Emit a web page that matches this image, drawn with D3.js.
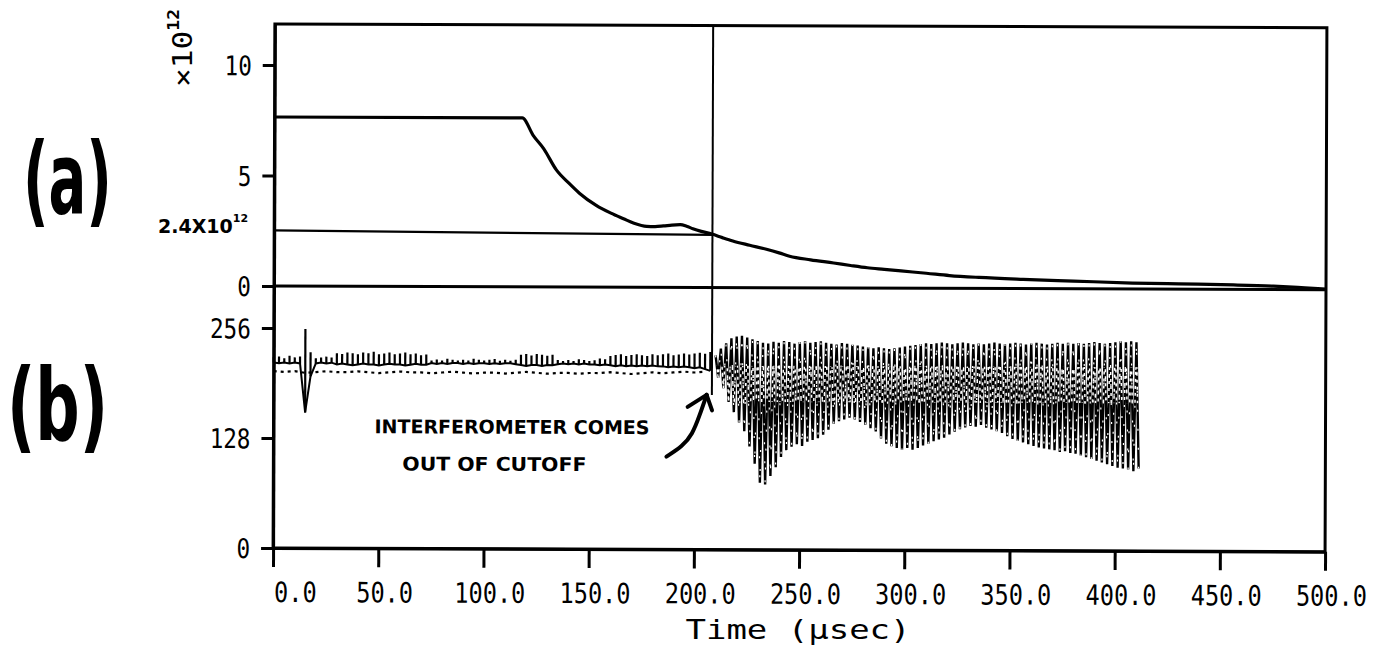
<!DOCTYPE html>
<meta charset="utf-8">
<head>
    <script type="text/javascript" src="https://cdn.jsdelivr.net/npm/d3@7"></script>

    <style>
        body {
            margin: 0;
            background: #fff;
        }

        .axis path, .axis line {
            stroke: #000;
            stroke-width: 3;
        }

        .axis text {
            fill: #000;
            font-family: "DejaVu Sans Mono", monospace;
        }

        .hand {
            fill: #000;
            font-family: "DejaVu Sans", sans-serif;
            font-weight: bold;
        }
    </style>

    <title>Density and interferometer signal</title>
</head>

<body>
    <div id="chart"></div>

    <script>
        // ---- panel (a): line density (x10^12) vs time (usec)
        var densT = [0, 117.7, 123, 128, 134, 140, 145, 153, 160, 166, 171, 177, 181, 185, 189, 193, 196, 199, 203, 208,
                     213, 218, 226, 234, 240, 245, 255, 266, 274, 282, 290, 298, 310, 321, 335, 356, 380, 408, 430, 456, 475, 490, 500];
        var densV = [7.65, 7.65, 6.85, 6.25, 5.3, 4.7, 4.25, 3.7, 3.35, 3.1, 2.9, 2.76, 2.75, 2.78, 2.82, 2.84, 2.77, 2.66, 2.54, 2.42,
                     2.26, 2.11, 1.92, 1.74, 1.58, 1.43, 1.27, 1.13, 1.02, 0.92, 0.85, 0.78, 0.68, 0.58, 0.5, 0.42, 0.35, 0.27, 0.24, 0.2, 0.15, 0.08, 0.03];

        // hand-drawn reference level and cursor
        var refLine = [[0, 2.52], [208.3, 2.38]];
        var refLabel = "2.4X10";
        var refExp = "12";
        var cursorT = 208.3;
        var cursorBottom = 180;   // where the cursor stops inside panel (b)

        // ---- panel (b): digitised interferometer signal (0..256), one sample every SAMPLE_DT usec
        var SAMPLE_DT = 2.5;
        // before cutoff (t = 0 .. 207.5): upper trace, tick tops and baseline
        var preHi = [222, 223, 221, 224, 222, 223, 255, 228, 221, 222, 223, 222,
                     227, 226, 228, 227, 226, 228, 227, 229, 226, 227, 228, 226, 227, 228, 226, 227, 225, 226,
                     219, 220, 219, 221, 220, 219, 220, 219, 221, 220, 219, 220, 221, 219, 220, 219, 220,
                     226, 227, 225, 227, 226, 225, 226,
                     220, 219, 220, 219, 221, 220, 219, 220, 222, 221,
                     225, 226, 227, 225, 226, 227, 226, 225, 227, 226, 227, 228, 226, 227, 228, 227, 228, 229, 228, 230];
        var preLo = [216, 215, 216, 215, 216, 215, 158, 200, 215, 216, 215, 216,
                     214, 215, 214, 213, 214, 215, 214, 214, 213, 214, 215, 214, 214, 213, 214, 215, 214, 214,
                     216, 215, 216, 215, 216, 216, 215, 216, 215, 216, 216, 215, 216, 215, 216, 216, 215,
                     214, 213, 214, 214, 213, 214, 214,
                     215, 216, 215, 216, 215, 216, 215, 215, 214, 215,
                     214, 213, 214, 213, 214, 213, 214, 213, 214, 213, 213, 212, 213, 212, 213, 212, 211, 212, 210, 208];
        // lower dotted trace before cutoff, one value every 5 usec
        var LOWER_DT = 5;
        var lowerTrace = [206, 205, 206, 204, 205, 206, 205, 205, 206, 205, 204, 205, 206, 205, 205, 204, 205, 206, 205, 204, 205,
                          205, 204, 205, 206, 205, 204, 205, 205, 204, 205, 205, 206, 205, 204, 205, 206, 205, 206, 207, 206, 207];
        // after cutoff (t = 210 .. 410): fringe oscillation, maxima and minima
        var BURST_T0 = 210;
        var burstHi = [226, 234, 240, 246, 248, 249, 247, 245, 243, 241,
                       240, 242, 241, 243, 242, 240, 242, 243, 241, 242,
                       243, 241, 240, 239, 241, 240, 239, 238, 237, 236,
                       235, 236, 235, 234, 235, 236, 237, 238, 239, 240,
                       241, 240, 241, 242, 241, 240, 241, 242, 241, 240,
                       241, 240, 241, 242, 241, 240, 241, 242, 241, 240,
                       241, 242, 241, 240, 241, 242, 241, 242, 241, 242,
                       241, 242, 243, 242, 241, 242, 243, 244, 243, 244,
                       243];
        var burstLo = [200, 188, 172, 160, 148, 138, 120, 100, 78, 76,
                       86, 96, 108, 116, 120, 123, 121, 126, 128, 130,
                       134, 140, 147, 150, 152, 154, 152, 149, 146, 142,
                       138, 130, 124, 121, 119, 117, 119, 117, 119, 122,
                       124, 127, 129, 131, 135, 138, 141, 143, 145, 144,
                       146, 143, 141, 139, 137, 133, 130, 128, 126, 124,
                       122, 120, 119, 118, 117, 115, 116, 114, 113, 111,
                       109, 107, 105, 103, 101, 99, 97, 96, 95, 93,
                       96];
        // lighter, speckled band in the middle of the burst
        var speckleBand = [214, 172];

        // annotation (panel b data units)
        var noteLines = ["INTERFEROMETER COMES", "OUT OF CUTOFF"];
        var notePos = [[48, 134], [61.3, 90.8]];
        var arrowPts = [[186.8, 108], [194.4, 120], [199.1, 134], [202.5, 156], [205.8, 180]];
        var arrowBarbs = [[196.8, 166], [208.4, 162]];

        // axes
        var xTicks = [0, 50, 100, 150, 200, 250, 300, 350, 400, 450, 500];
        var yTicksA = [0, 5, 10];
        var yTicksB = [0, 128, 256];

        var w = 1389, h = 646;

        var svg = d3.select("#chart")
            .append("svg")
            .attr("width", w)
            .attr("height", h)
            .style("background", "#fff");

        // the scanned plot sits slightly tilted
        var g = svg.append("g").attr("transform", "rotate(0.2 274 286)");

        var x = d3.scaleLinear().domain([0, 500]).range([274, 1326]);
        var yA = d3.scaleLinear().domain([0, 11.86]).range([286, 24]);
        var yB = d3.scaleLinear().domain([0, 305]).range([548, 286]);

        function squeeze(sel, charW) {
            sel.attr("textLength", function() { return this.textContent.length * charW; })
               .attr("lengthAdjust", "spacingAndGlyphs");
        }

        // frame
        g.append("rect")
            .attr("x", x(0)).attr("y", yA.range()[1])
            .attr("width", x(500) - x(0)).attr("height", yB(0) - yA.range()[1])
            .attr("fill", "none").attr("stroke", "#000").attr("stroke-width", 3);
        g.append("line")
            .attr("x1", x(0)).attr("x2", x(500))
            .attr("y1", yA(0)).attr("y2", yA(0))
            .attr("stroke", "#000").attr("stroke-width", 3);

        // x axis
        var gx = g.append("g").attr("class", "axis")
            .attr("transform", "translate(0," + yB(0) + ")")
            .call(d3.axisBottom(x).tickValues(xTicks).tickFormat(d3.format(".1f")).tickSize(19).tickSizeOuter(0));
        gx.attr("font-size", 28).attr("font-family", null);
        gx.selectAll("text")
            .attr("y", 54).attr("dy", 0)
            .attr("dx", (d, i) => i === 0 ? 22 : 6)
            .call(squeeze, 14.2);

        // y axes
        var gyA = g.append("g").attr("class", "axis")
            .attr("transform", "translate(" + x(0) + ",0)")
            .call(d3.axisLeft(yA).tickValues(yTicksA).tickSize(12).tickPadding(11).tickSizeOuter(0));
        var gyB = g.append("g").attr("class", "axis")
            .attr("transform", "translate(" + x(0) + ",0)")
            .call(d3.axisLeft(yB).tickValues(yTicksB).tickSize(12).tickPadding(11).tickSizeOuter(0));
        [gyA, gyB].forEach(a => {
            a.attr("font-size", 27).attr("font-family", null);
            a.selectAll("text").attr("dy", "0.36em").call(squeeze, 13.6);
        });

        svg.append("text")
            .attr("x", 798).attr("y", 639)
            .attr("text-anchor", "middle")
            .attr("font-family", "DejaVu Sans Mono, monospace")
            .attr("font-size", 27)
            .attr("textLength", 225).attr("lengthAdjust", "spacingAndGlyphs")
            .text("Time (\u00b5sec)");

        // x10^12 exponent label
        var expT = svg.append("text")
            .attr("transform", "translate(192,87) rotate(-90)")
            .attr("font-family", "DejaVu Sans Mono, monospace").attr("font-size", 26)
            .attr("textLength", 78).attr("lengthAdjust", "spacingAndGlyphs");
        expT.append("tspan").text("\u00d710");
        expT.append("tspan").attr("dy", -13).attr("font-size", 15).attr("font-weight", "bold").text("12");

        // ---- panel (a) marks
        var densLine = d3.line().curve(d3.curveMonotoneX).x(d => x(d[0])).y(d => yA(d[1]));
        g.append("path")
            .datum(densT.map((t, i) => [t, densV[i]]))
            .attr("d", densLine)
            .attr("fill", "none").attr("stroke", "#000").attr("stroke-width", 3.2)
            .attr("stroke-linejoin", "round");

        g.append("path")
            .datum(refLine)
            .attr("d", densLine)
            .attr("fill", "none").attr("stroke", "#000").attr("stroke-width", 2.2);

        g.append("line")
            .attr("x1", x(cursorT)).attr("x2", x(cursorT))
            .attr("y1", yA.range()[1]).attr("y2", yB(cursorBottom))
            .attr("stroke", "#000").attr("stroke-width", 2);

        // ---- panel (b) marks
        // upper trace before cutoff: baseline with ticks
        var preT = preHi.map((d, i) => i * SAMPLE_DT);
        g.append("path")
            .datum(preT.map((t, i) => [t, preLo[i]]))
            .attr("d", d3.line().x(d => x(d[0])).y(d => yB(d[1])))
            .attr("fill", "none").attr("stroke", "#000").attr("stroke-width", 2);
        g.append("g").selectAll("line")
            .data(preT)
            .join("line")
            .attr("x1", d => x(d)).attr("x2", d => x(d))
            .attr("y1", (d, i) => yB(preHi[i])).attr("y2", (d, i) => yB(preLo[i]))
            .attr("stroke", "#000").attr("stroke-width", 2.2);

        // lower dotted trace
        g.append("path")
            .datum(lowerTrace.map((v, i) => [i * LOWER_DT, v]))
            .attr("d", d3.line().x(d => x(d[0])).y(d => yB(d[1])))
            .attr("fill", "none").attr("stroke", "#000").attr("stroke-width", 2.2)
            .attr("stroke-dasharray", "3,4");

        // fringe burst after cutoff: max -> min each sample
        var burstPts = [];
        burstHi.forEach((hi, i) => {
            var t = BURST_T0 + i * SAMPLE_DT;
            burstPts.push([t, hi]);
            burstPts.push([t + SAMPLE_DT / 2, burstLo[i]]);
        });
        var burstLine = d3.line().x(d => x(d[0])).y(d => yB(d[1]));
        g.append("path")
            .datum(burstPts)
            .attr("d", burstLine)
            .attr("fill", "none").attr("stroke", "#000").attr("stroke-width", 2.4);

        // a few gaps along the burst strokes
        g.append("path")
            .datum(burstPts)
            .attr("d", burstLine)
            .attr("fill", "none").attr("stroke", "#fff").attr("stroke-width", 1.2)
            .attr("stroke-dasharray", "2,17");

        // lighter speckled middle of the burst
        svg.append("clipPath").attr("id", "speckle")
            .append("rect")
            .attr("x", x(BURST_T0)).attr("width", x(500) - x(BURST_T0))
            .attr("y", yB(speckleBand[0])).attr("height", yB(speckleBand[1]) - yB(speckleBand[0]));
        g.append("path")
            .datum(burstPts)
            .attr("d", burstLine)
            .attr("clip-path", "url(#speckle)")
            .attr("fill", "none").attr("stroke", "#fff").attr("stroke-width", 1.5)
            .attr("stroke-dasharray", "3,4");

        // annotation
        noteLines.forEach((s, i) => {
            g.append("text")
                .attr("class", "hand")
                .attr("x", x(notePos[i][0])).attr("y", yB(notePos[i][1]))
                .attr("font-size", 19)
                .attr("textLength", i === 0 ? 275 : 184).attr("lengthAdjust", "spacingAndGlyphs")
                .text(s);
        });
        g.append("path")
            .datum(arrowPts)
            .attr("d", d3.line().curve(d3.curveBasis).x(d => x(d[0])).y(d => yB(d[1])))
            .attr("fill", "none").attr("stroke", "#000").attr("stroke-width", 4)
            .attr("stroke-linecap", "round");
        var tip = arrowPts[arrowPts.length - 1];
        arrowBarbs.forEach(b => {
            g.append("line")
                .attr("x1", x(tip[0])).attr("y1", yB(tip[1]))
                .attr("x2", x(b[0])).attr("y2", yB(b[1]))
                .attr("stroke", "#000").attr("stroke-width", 4).attr("stroke-linecap", "round");
        });

        // hand-written labels
        var refT = svg.append("text").attr("class", "hand")
            .attr("x", 158).attr("y", 233).attr("font-size", 19).attr("font-weight", "normal");
        refT.append("tspan").text(refLabel);
        refT.append("tspan").attr("dy", -11).attr("font-size", 11).text(refExp);

        svg.append("text").attr("class", "hand")
            .attr("transform", "translate(23,214) scale(0.56,1)")
            .attr("font-size", 100)
            .text("(a)");
        svg.append("text").attr("class", "hand")
            .attr("transform", "translate(7,440) scale(0.62,1)")
            .attr("font-size", 100)
            .text("(b)");
    </script>
</body>
</html>
